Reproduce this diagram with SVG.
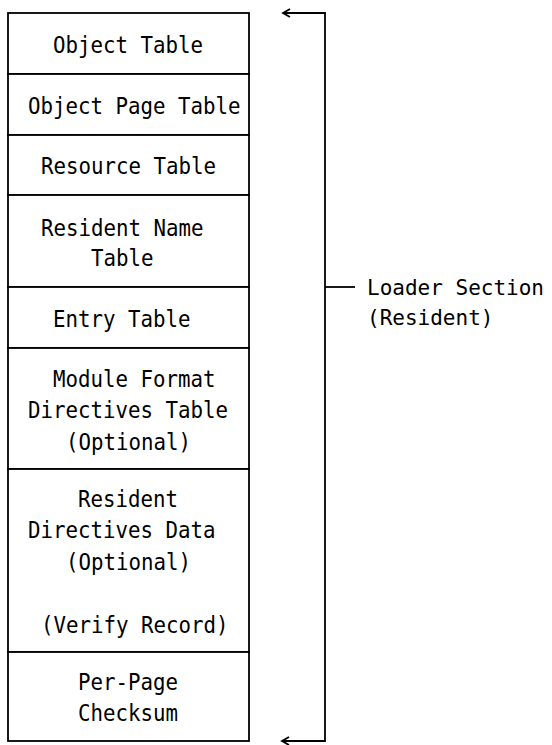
<svg xmlns="http://www.w3.org/2000/svg" width="552" height="745" viewBox="0 0 552 745">
<style>
.box{fill:#fff;stroke:#000;stroke-width:1.8}
.t{font-family:"DejaVu Sans Mono","Liberation Mono",monospace;font-size:23.5px;fill:#000}
.lbl{font-family:"DejaVu Sans Mono","Liberation Mono",monospace;font-size:21px;fill:#000}
.ln{fill:none;stroke:#000;stroke-width:1.8}
</style>
<rect width="552" height="745" fill="#fff"/>
<g id="object-table"><rect class="box" x="8" y="13" width="241" height="61"/><text class="t" x="53" y="53" textLength="150" lengthAdjust="spacingAndGlyphs">Object Table</text></g>
<g id="object-page-table"><rect class="box" x="8" y="74" width="241" height="61"/><text class="t" x="28" y="114" textLength="212.5" lengthAdjust="spacingAndGlyphs">Object Page Table</text></g>
<g id="resource-table"><rect class="box" x="8" y="135" width="241" height="60"/><text class="t" x="41" y="174" textLength="175" lengthAdjust="spacingAndGlyphs">Resource Table</text></g>
<g id="resident-name-table"><rect class="box" x="8" y="195" width="241" height="92"/><text class="t" x="41" y="236" textLength="162.5" lengthAdjust="spacingAndGlyphs">Resident Name</text><text class="t" x="91" y="266" textLength="62.5" lengthAdjust="spacingAndGlyphs">Table</text></g>
<g id="entry-table"><rect class="box" x="8" y="287" width="241" height="61"/><text class="t" x="53" y="327" textLength="137.5" lengthAdjust="spacingAndGlyphs">Entry Table</text></g>
<g id="module-format-directives-table"><rect class="box" x="8" y="348" width="241" height="121"/><text class="t" x="53" y="387" textLength="162.5" lengthAdjust="spacingAndGlyphs">Module Format</text><text class="t" x="28" y="418" textLength="200" lengthAdjust="spacingAndGlyphs">Directives Table</text><text class="t" x="66" y="450" textLength="125" lengthAdjust="spacingAndGlyphs">(Optional)</text></g>
<g id="resident-directives-data"><rect class="box" x="8" y="469" width="241" height="183"/><text class="t" x="78" y="507" textLength="100" lengthAdjust="spacingAndGlyphs">Resident</text><text class="t" x="28" y="538" textLength="187.5" lengthAdjust="spacingAndGlyphs">Directives Data</text><text class="t" x="66" y="570" textLength="125" lengthAdjust="spacingAndGlyphs">(Optional)</text><text class="t" x="41" y="633" textLength="187.5" lengthAdjust="spacingAndGlyphs">(Verify Record)</text></g>
<g id="per-page-checksum"><rect class="box" x="8" y="652" width="241" height="89"/><text class="t" x="78" y="690" textLength="100" lengthAdjust="spacingAndGlyphs">Per-Page</text><text class="t" x="78" y="721" textLength="100" lengthAdjust="spacingAndGlyphs">Checksum</text></g>
<g id="connectors">
<path class="ln" d="M284 13H325V741H283"/>
<path class="ln" d="M290 9L283 13L290 17"/>
<path class="ln" d="M289 737L282 741L289 745"/>
<path class="ln" d="M325 287H355"/>
</g>
<g id="loader-section"><text class="lbl" x="367" y="295">Loader Section</text><text class="lbl" x="367" y="325">(Resident)</text></g>
</svg>
